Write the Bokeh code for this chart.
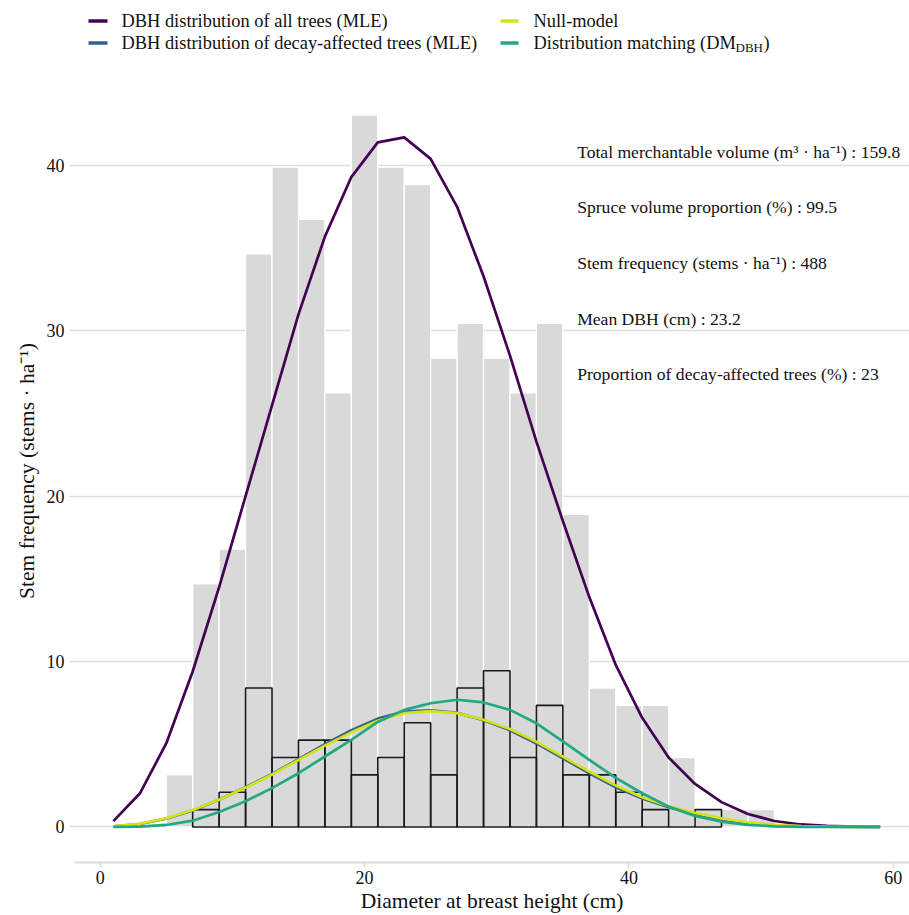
from bokeh.plotting import figure
from bokeh.layouts import column
from bokeh.models import Range1d, ColumnDataSource, FixedTicker
from bokeh.core.properties import value
from bokeh.embed import file_html
from bokeh.resources import INLINE

# ---------------- data ----------------
bin_centers_all = [6, 8, 10, 12, 14, 16, 18, 20, 22, 24, 26, 28, 30, 32, 34, 36, 38, 40, 42, 44, 46, 48, 50]
freq_all = [3.15, 14.7, 16.8, 34.65, 39.9, 36.75, 26.25, 43.05, 39.9, 38.85, 28.35, 30.45,
            28.35, 26.25, 30.45, 18.9, 8.4, 7.35, 7.35, 4.2, 1.05, 1.05, 1.05]

bin_centers_decay = [8, 10, 12, 14, 16, 18, 20, 22, 24, 26, 28, 30, 32, 34, 36, 38, 40, 42, 44, 46]
freq_decay = [1.05, 2.1, 8.4, 4.2, 5.25, 5.25, 3.15, 4.2, 6.3, 3.15, 8.4, 9.45, 4.2, 7.35,
              3.15, 3.15, 2.1, 1.05, 0.0, 1.05]

dbh = [1, 3, 5, 7, 9, 11, 13, 15, 17, 19, 21, 23, 25, 27, 29, 31, 33, 35, 37, 39, 41, 43, 45,
       47, 49, 51, 53, 55, 57, 59]
mle_all = [0.35, 2.02, 5.05, 9.4, 14.5, 20.0, 25.5, 31.0, 35.7, 39.3, 41.4, 41.7, 40.4, 37.5,
           33.3, 28.5, 23.3, 18.5, 13.9, 9.8, 6.6, 4.2, 2.6, 1.5, 0.78, 0.36, 0.15, 0.06, 0.02, 0.01]
mle_decay = [0.03, 0.18, 0.5, 1.0, 1.65, 2.4, 3.2, 4.1, 5.0, 5.85, 6.55, 6.98, 7.05, 6.9, 6.45,
             5.85, 5.05, 4.15, 3.25, 2.4, 1.72, 1.2, 0.78, 0.46, 0.24, 0.11, 0.05, 0.02, 0.01, 0.0]
null_model = [0.03, 0.2, 0.52, 1.02, 1.65, 2.38, 3.17, 4.05, 4.92, 5.72, 6.42, 6.88, 7.0, 6.88,
              6.48, 5.92, 5.15, 4.25, 3.35, 2.5, 1.8, 1.25, 0.85, 0.52, 0.28, 0.13, 0.05, 0.02, 0.01, 0.0]
dist_match = [0.0, 0.02, 0.12, 0.38, 0.9, 1.55, 2.35, 3.25, 4.26, 5.27, 6.35, 7.08, 7.48, 7.69,
              7.53, 7.08, 6.27, 5.17, 4.06, 2.97, 2.04, 1.23, 0.67, 0.32, 0.12, 0.04, 0.01, 0.0, 0.0, 0.0]

series_names = ["DBH distribution of all trees (MLE)",
                "DBH distribution of decay-affected trees (MLE)",
                "Null-model",
                "Distribution matching (DM"]
series_colors = ["#440154", "#35618F", "#D4E21A", "#22A884"]

stat_lines = ["Total merchantable volume (m³ · ha⁻¹) : 159.8",
              "Spruce volume proportion (%) : 99.5",
              "Stem frequency (stems · ha⁻¹) : 488",
              "Mean DBH (cm) : 23.2",
              "Proportion of decay-affected trees (%) : 23"]
stat_x = [36.08, 36.08, 36.08, 36.08, 36.08]
stat_y = [40.83, 37.47, 34.09, 30.71, 27.4]

x_ticks = [0, 20, 40, 60]
y_ticks = [0, 10, 20, 30, 40]

FONT = "Liberation Serif"
TXT = "#111111"

W = 909
LEFT = 74

# ---------------- legend figure (x in page pixels) ----------------
LEG_H = 62
leg = figure(width=W, height=LEG_H, output_backend="svg", toolbar_location=None,
             x_range=Range1d(LEFT, W), y_range=Range1d(LEG_H, 0),
             min_border_left=LEFT, min_border_right=0, min_border_top=0, min_border_bottom=0)
leg.axis.visible = False
leg.grid.visible = False
leg.outline_line_color = None

key_x0 = [88, 88, 500, 500]
key_x1 = [107, 107, 518, 518]
key_y = [20.5, 42.5, 20.5, 42.5]
txt_x = [121, 121, 533, 533]
for i in range(4):
    leg.segment(x0=[key_x0[i]], y0=[key_y[i]], x1=[key_x1[i]], y1=[key_y[i]],
                line_color=series_colors[i], line_width=3.5)
    leg.text(x=[txt_x[i]], y=[key_y[i]], text=[series_names[i]],
             text_font=value(FONT), text_font_size="18.4px", text_color=TXT,
             text_baseline="middle", text_align="left")
# subscript + closing parenthesis of last legend entry
leg.text(x=[735], y=[key_y[3] + 4], text=["DBH"], text_font=value(FONT),
         text_font_size="13px", text_color=TXT, text_baseline="middle", text_align="left")
leg.text(x=[763], y=[key_y[3]], text=[")"], text_font=value(FONT),
         text_font_size="18.4px", text_color=TXT, text_baseline="middle", text_align="left")

# ---------------- main figure ----------------
MAIN_H = 915 - LEG_H
p = figure(width=W, height=MAIN_H, output_backend="svg", toolbar_location=None,
           x_range=Range1d(-1.94, 61.22), y_range=Range1d(-2.15, 45.2),
           min_border_left=LEFT, min_border_right=0, min_border_top=17, min_border_bottom=53)
p.outline_line_color = None
p.xgrid.visible = False
p.ygrid.grid_line_color = "#DEDEDE"
p.ygrid.grid_line_width = 1.5
p.ygrid.ticker = FixedTicker(ticks=y_ticks)

p.vbar(x=bin_centers_all, width=2, top=freq_all, bottom=0,
       fill_color="#D9D9D9", line_color="white", line_width=1.3)
p.vbar(x=bin_centers_decay, width=2, top=freq_decay, bottom=0,
       fill_color=None, line_color="#1A1A1A", line_width=1.6)

curves = [mle_all, mle_decay, null_model, dist_match]
for i, ys in enumerate(curves):
    p.line(x=dbh, y=ys, line_color=series_colors[i], line_width=2.7)

src = ColumnDataSource(dict(x=stat_x, y=stat_y, t=stat_lines))
p.text(x="x", y="y", text="t", source=src, text_font=value(FONT), text_font_size="17.6px",
       text_color=TXT, text_baseline="middle", text_align="left")

# axes
p.xaxis.ticker = FixedTicker(ticks=x_ticks)
p.yaxis.ticker = FixedTicker(ticks=y_ticks)
p.xaxis.axis_label = "Diameter at breast height (cm)"
p.yaxis.axis_label = "Stem frequency (stems · ha⁻¹)"
for ax in (p.xaxis, p.yaxis):
    ax.axis_label_text_font = FONT
    ax.axis_label_text_font_size = "21.5px"
    ax.axis_label_text_font_style = "normal"
    ax.axis_label_text_color = TXT
    ax.major_label_text_font = FONT
    ax.major_label_text_font_size = "18px"
    ax.major_label_text_color = TXT
    ax.minor_tick_line_color = None
    ax.major_tick_in = 0
    ax.major_tick_out = 5
    ax.major_tick_line_color = "#DADADA"
    ax.major_tick_line_width = 1.5
p.xaxis.axis_line_color = "#DADADA"
p.xaxis.axis_line_width = 2
p.yaxis.axis_line_color = None
p.xaxis.major_label_standoff = 3
p.xaxis.axis_label_standoff = 2
p.yaxis.major_label_standoff = 5
p.yaxis.axis_label_standoff = 5

layout = column(leg, p, spacing=0)
open("out.html", "w").write(file_html(layout, INLINE))
